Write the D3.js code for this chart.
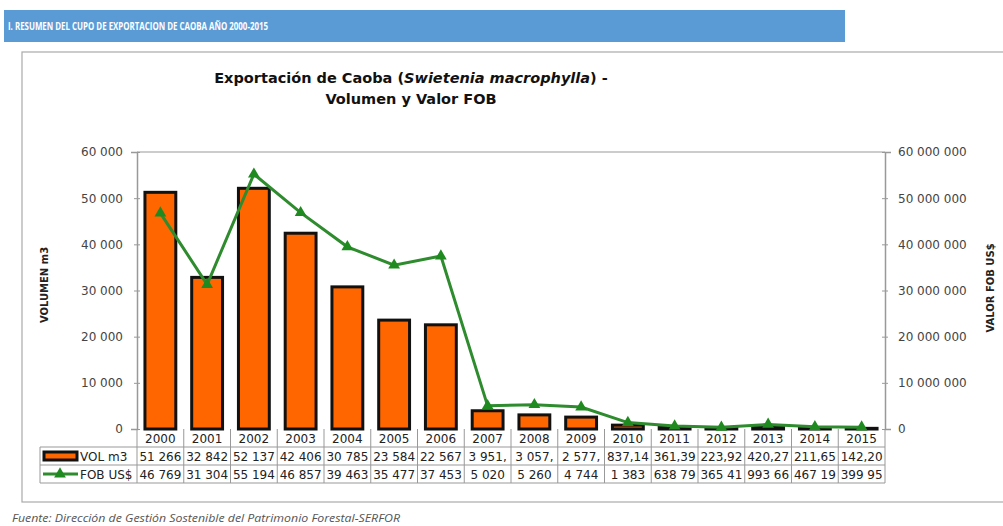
<!DOCTYPE html>
<html>
<head>
<meta charset="utf-8">
<script src="https://cdn.jsdelivr.net/npm/d3@7"></script>
<style>
  body { margin: 0; background: #fff; }
  svg { display: block; font-family: "DejaVu Sans", Verdana, sans-serif; }
</style>
</head>
<body>
<svg width="1003" height="526"></svg>
<script>
const svg = d3.select("svg");

// data
const years = ["2000","2001","2002","2003","2004","2005","2006","2007","2008","2009","2010","2011","2012","2013","2014","2015"];
const volumen = [51266, 32842, 52137, 42406, 30785, 23584, 22567, 3951, 3057, 2577, 837.14, 361.39, 223.92, 420.27, 211.65, 142.20];
const fob = [46769000, 31304000, 55194000, 46857000, 39463000, 35477000, 37453000, 5020000, 5260000, 4744000, 1383000, 638790, 365410, 993660, 467190, 399950];
const volLabels = ["51 266","32 842","52 137","42 406","30 785","23 584","22 567","3 951,","3 057,","2 577,","837,14","361,39","223,92","420,27","211,65","142,20"];
const fobLabels = ["46 769","31 304","55 194","46 857","39 463","35 477","37 453","5 020","5 260","4 744","1 383","638 79","365 41","993 66","467 19","399 95"];
const leftTicks = [0, 10000, 20000, 30000, 40000, 50000, 60000];
const rightTicks = [0, 10e6, 20e6, 30e6, 40e6, 50e6, 60e6];

const locale = d3.formatLocale({ decimal: ",", thousands: " ", grouping: [3], currency: ["", "$"] });
const fmt = locale.format(",d");

const pLeft = 137, pRight = 885, pTop = 152, pBottom = 429;
const rowH = 18;

const x = d3.scaleBand().domain(years).range([pLeft, pRight]).paddingInner(0.34).paddingOuter(0.17);
const xs = d3.scaleBand().domain(years).range([pLeft, pRight]);
const yL = d3.scaleLinear().domain([0, 60000]).range([pBottom, pTop]);
const yR = d3.scaleLinear().domain([0, 60e6]).range([pBottom, pTop]);

// header banner
svg.append("rect").attr("x", 4).attr("y", 10).attr("width", 841).attr("height", 32)
    .attr("fill", "#5b9bd5");
svg.append("text").attr("x", 8).attr("y", 30)
    .attr("font-family", "Open Sans").attr("font-weight", "bold").attr("font-size", 11)
    .attr("fill", "#fff").attr("textLength", 260).attr("lengthAdjust", "spacingAndGlyphs")
    .text("I. RESUMEN DEL CUPO DE EXPORTACION DE CAOBA  AÑO 2000-2015");

// chart frame
svg.append("rect").attr("x", 22).attr("y", 52).attr("width", 1000).attr("height", 450)
    .attr("fill", "none").attr("stroke", "#aaa").attr("stroke-width", 1.2);

// title
const title = svg.append("text").attr("x", 411).attr("y", 83)
    .attr("text-anchor", "middle").attr("font-weight", "bold").attr("font-size", 14.5).attr("fill", "#111");
title.append("tspan").text("Exportación de Caoba (");
title.append("tspan").attr("font-style", "italic").text("Swietenia macrophylla");
title.append("tspan").text(") -");
svg.append("text").attr("x", 411).attr("y", 104)
    .attr("text-anchor", "middle").attr("font-weight", "bold").attr("font-size", 14.5).attr("fill", "#111")
    .text("Volumen y Valor FOB");

// plot border top
svg.append("line").attr("x1", pLeft).attr("x2", pRight).attr("y1", pTop).attr("y2", pTop)
    .attr("stroke", "#bbb").attr("stroke-width", 1.5);

// axes
const axL = svg.append("g").attr("transform", `translate(${pLeft},0)`)
    .call(d3.axisLeft(yL).tickValues(leftTicks).tickFormat(fmt).tickSize(6).tickPadding(8));
const axR = svg.append("g").attr("transform", `translate(${pRight},0)`)
    .call(d3.axisRight(yR).tickValues(rightTicks).tickFormat(fmt).tickSize(6).tickPadding(7));
[axL, axR].forEach(g => {
  g.select(".domain").attr("stroke", "#999").attr("stroke-width", 1.5);
  g.selectAll(".tick line").attr("stroke", "#999")
    .attr("transform", g === axL ? "translate(3,0)" : "translate(-3,0)");
  g.selectAll(".tick text").attr("font-size", 12).attr("fill", "#444")
    .attr("font-family", "DejaVu Sans");
});

svg.append("text").attr("transform", "translate(48,285) rotate(-90)")
    .attr("text-anchor", "middle").attr("font-weight", "bold").attr("font-size", 10).attr("fill", "#222")
    .text("VOLUMEN m3");
svg.append("text").attr("transform", "translate(994,288) rotate(-90)")
    .attr("text-anchor", "middle").attr("font-weight", "bold").attr("font-size", 10).attr("fill", "#222")
    .text("VALOR FOB US$");

// bars
svg.append("g").selectAll("rect").data(years).join("rect")
    .attr("x", d => x(d))
    .attr("width", x.bandwidth())
    .attr("y", (d, i) => yL(volumen[i]))
    .attr("height", (d, i) => pBottom - yL(volumen[i]))
    .attr("fill", "#ff6600").attr("stroke", "#111").attr("stroke-width", 3);

// line
const line = d3.line().x((d, i) => xs(years[i]) + xs.bandwidth() / 2).y(d => yR(d));
svg.append("path").datum(fob).attr("d", line)
    .attr("fill", "none").attr("stroke", "#2e8b2e").attr("stroke-width", 3);
const tri = d3.symbol().type(d3.symbolTriangle).size(60);
svg.append("g").selectAll("path").data(fob).join("path")
    .attr("transform", (d, i) => `translate(${xs(years[i]) + xs.bandwidth() / 2},${yR(d)})`)
    .attr("d", tri).attr("fill", "#1f8a1f");

// data table
const grid = svg.append("g").attr("stroke", "#999").attr("stroke-width", 1).attr("fill", "none");
grid.append("line").attr("x1", 40).attr("x2", pRight).attr("y1", pBottom + rowH).attr("y2", pBottom + rowH);
grid.append("line").attr("x1", 40).attr("x2", pRight).attr("y1", pBottom + 2 * rowH).attr("y2", pBottom + 2 * rowH);
grid.append("line").attr("x1", 40).attr("x2", pRight).attr("y1", pBottom + 3 * rowH).attr("y2", pBottom + 3 * rowH);
grid.append("line").attr("x1", 40).attr("x2", 40).attr("y1", pBottom + rowH).attr("y2", pBottom + 3 * rowH);
grid.selectAll(".v").data(years.concat(["end"])).join("line").attr("class", "v")
    .attr("x1", (d, i) => pLeft + i * xs.step()).attr("x2", (d, i) => pLeft + i * xs.step())
    .attr("y1", pBottom).attr("y2", pBottom + 3 * rowH);

const cells = svg.append("g").attr("font-size", 12).attr("fill", "#222").attr("text-anchor", "middle");
cells.selectAll(".yr").data(years).join("text").attr("class", "yr")
    .attr("x", d => xs(d) + xs.bandwidth() / 2).attr("y", pBottom + 14).text(d => d);
cells.selectAll(".vl").data(volLabels).join("text").attr("class", "vl")
    .attr("x", (d, i) => xs(years[i]) + xs.bandwidth() / 2).attr("y", pBottom + rowH + 14).text(d => d);
cells.selectAll(".fl").data(fobLabels).join("text").attr("class", "fl")
    .attr("x", (d, i) => xs(years[i]) + xs.bandwidth() / 2).attr("y", pBottom + 2 * rowH + 14).text(d => d);

// legend keys in table
svg.append("rect").attr("x", 44).attr("y", pBottom + rowH + 5).attr("width", 33).attr("height", 8)
    .attr("fill", "#ff6600").attr("stroke", "#111").attr("stroke-width", 3);
svg.append("text").attr("x", 80).attr("y", pBottom + rowH + 14).attr("font-size", 12).attr("fill", "#222").text("VOL m3");
svg.append("line").attr("x1", 43).attr("x2", 78).attr("y1", pBottom + 2 * rowH + 9).attr("y2", pBottom + 2 * rowH + 9)
    .attr("stroke", "#2e8b2e").attr("stroke-width", 3);
svg.append("path").attr("transform", `translate(60,${pBottom + 2 * rowH + 9})`).attr("d", tri).attr("fill", "#1f8a1f");
svg.append("text").attr("x", 80).attr("y", pBottom + 2 * rowH + 14).attr("font-size", 12).attr("fill", "#222").text("FOB US$");

// footer
svg.append("text").attr("x", 12).attr("y", 522).attr("font-style", "italic").attr("font-size", 11.5)
    .attr("fill", "#555").attr("font-family", "Open Sans")
    .attr("textLength", 388).attr("lengthAdjust", "spacingAndGlyphs")
    .text("Fuente: Dirección de Gestión Sostenible del Patrimonio Forestal-SERFOR");
</script>
</body>
</html>
